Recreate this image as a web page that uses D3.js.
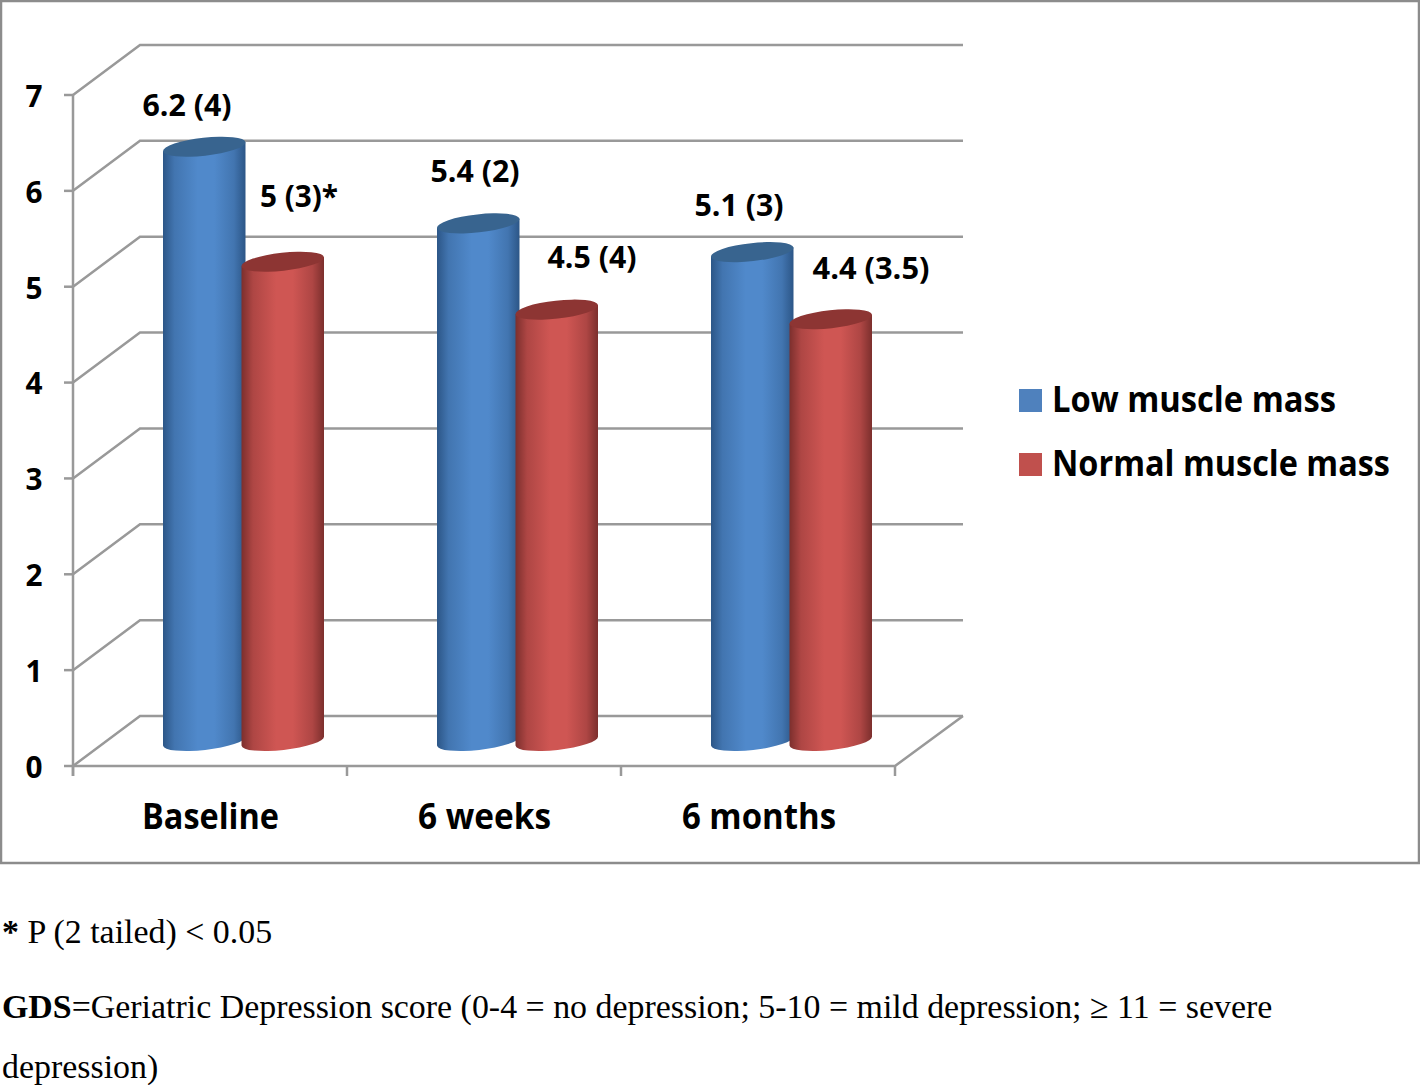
<!DOCTYPE html>
<html><head><meta charset="utf-8">
<script src="https://cdn.jsdelivr.net/npm/d3@7"></script>
<style>html,body{margin:0;padding:0;background:#fff}svg{display:block}
.sans{font-family:"Open Sans",sans-serif;font-weight:700;fill:#000}
.serif{font-family:"Liberation Serif",serif;fill:#000;font-size:33.9px}</style>
</head><body><svg id="c" width="1420" height="1085"></svg>
<script>
const categories = ["Baseline", "6 weeks", "6 months"];
const seriesNames = ["Low muscle mass", "Normal muscle mass"];
const lowMuscle = [6.2, 5.4, 5.1];
const normalMuscle = [5, 4.5, 4.4];
const lowLabels = ["6.2 (4)", "5.4 (2)", "5.1 (3)"];
const normalLabels = ["5 (3)*", "4.5 (4)", "4.4 (3.5)"];
const yTicks = [0, 1, 2, 3, 4, 5, 6, 7];
const colors = [
  {edge:"#2c5687", mid:"#5089cb", top:"#38648f", key:"#4f81bd"},
  {edge:"#7c2f2d", mid:"#cf5653", top:"#8d3533", key:"#c0504d"}
];

const svg = d3.select("#c");
const grey = "#999";
const depthX = 67, depthY = 50;
const y = d3.scaleLinear().domain([0, 7]).range([766, 95]);
const x0 = d3.scaleBand().domain(categories).range([73, 895]);
const x1 = d3.scaleBand().domain([0, 1]).range([92, 249]);

// frame
svg.append("rect").attr("x",1).attr("y",1).attr("width",1418).attr("height",862)
  .attr("fill","#fff").attr("stroke","#8c8c8c").attr("stroke-width",2.5);

// walls and gridlines
const g = svg.append("g").attr("stroke",grey).attr("stroke-width",2.5).attr("fill","none");
yTicks.forEach(t => {
  g.append("path").attr("d",
    `M${x0.range()[0]},${y(t)}L${x0.range()[0]+depthX},${y(t)-depthY}L963,${y(t)-depthY}`);
  g.append("line").attr("x1",x0.range()[0]-9).attr("x2",x0.range()[0]).attr("y1",y(t)).attr("y2",y(t));
});
g.append("line").attr("x1",73).attr("x2",73).attr("y1",y(7)).attr("y2",776);
g.append("path").attr("d",`M73,${y(0)}L895,${y(0)}L963,${y(0)-depthY}`);
[...categories.map(c=>x0(c)+x0.step()), 73].forEach(v =>
  g.append("line").attr("x1",v).attr("x2",v).attr("y1",y(0)).attr("y2",776));

// gradients
const defs = svg.append("defs");
colors.forEach((c,i)=>{
  const lg = defs.append("linearGradient").attr("id","g"+i);
  [[0,c.edge],[.14,d3.interpolateRgb(c.edge,c.mid)(.6)],[.42,c.mid],[.62,c.mid],[.86,d3.interpolateRgb(c.edge,c.mid)(.6)],[1,c.edge]]
    .forEach(s=>lg.append("stop").attr("offset",s[0]).attr("stop-color",s[1]));
});

// cylinders
const rx = 41.5, ry = 9, tilt = 6.3;
const dx = rx*Math.cos(tilt*Math.PI/180), dy = rx*Math.sin(tilt*Math.PI/180);
const base = y(0) - 25;
function cylinder(cx, v, i){
  const top = base - (y(0)-y(v));
  const gc = svg.append("g");
  gc.append("path").attr("fill",`url(#g${i})`).attr("d",
    `M${cx-dx},${top+dy}L${cx-dx},${base+dy}A${rx},${ry} ${-tilt} 0 0 ${cx+dx},${base-dy}L${cx+dx},${top-dy}Z`);
  gc.append("ellipse").attr("cx",cx).attr("cy",top).attr("rx",rx).attr("ry",ry)
    .attr("transform",`rotate(${-tilt} ${cx} ${top})`).attr("fill",colors[i].top);
}
categories.forEach((c,k)=>{
  cylinder(x0(c)+x1(0)+x1.bandwidth()/2, lowMuscle[k], 0);
  cylinder(x0(c)+x1(1)+x1.bandwidth()/2, normalMuscle[k], 1);
});

// text fitted to a measured width
function sans(text, px, cy, size, width, anchor){
  const t = svg.append("text").attr("class","sans").attr("x",px).attr("y",cy)
    .attr("dy","0.36em").attr("font-size",size).attr("text-anchor",anchor||"middle").text(text);
  if(width){t.attr("textLength",width).attr("lengthAdjust","spacingAndGlyphs");}
  return t;
}
yTicks.forEach(t => sans(String(t), 34, y(t)+1, 30, 17));

const catLabelX = [210.5, 484.5, 759], catLabelW = [137, 133, 154];
categories.forEach((c,i)=> sans(c, catLabelX[i], 816.5, 35, catLabelW[i]));

const lowPos = [[187,105,89],[475,171,89],[739,205,89]];
const normPos = [[299,196,78],[592,257,89],[871,268,117]];
lowLabels.forEach((l,i)=> sans(l, lowPos[i][0], lowPos[i][1], 30, lowPos[i][2]));
normalLabels.forEach((l,i)=> sans(l, normPos[i][0], normPos[i][1], 30, normPos[i][2]));

// legend
const legendY = [399, 463], legendW = [284, 338];
seriesNames.forEach((s,i)=>{
  svg.append("rect").attr("x",1019).attr("y",legendY[i]-10).attr("width",23).attr("height",23).attr("fill",colors[i].key);
  sans(s, 1052, legendY[i], 35, legendW[i], "start");
});

// footnotes
const note1 = svg.append("text").attr("class","serif").attr("x",2).attr("y",943);
note1.append("tspan").attr("font-weight",700).text("*");
note1.append("tspan").text(" P (2 tailed) < 0.05");
const note2 = svg.append("text").attr("class","serif").attr("x",2).attr("y",1018);
note2.append("tspan").attr("font-weight",700).text("GDS");
note2.append("tspan").text("=Geriatric Depression score (0-4 = no depression; 5-10 = mild depression; ≥ 11 = severe");
svg.append("text").attr("class","serif").attr("x",2).attr("y",1078).text("depression)");
</script></body></html>
